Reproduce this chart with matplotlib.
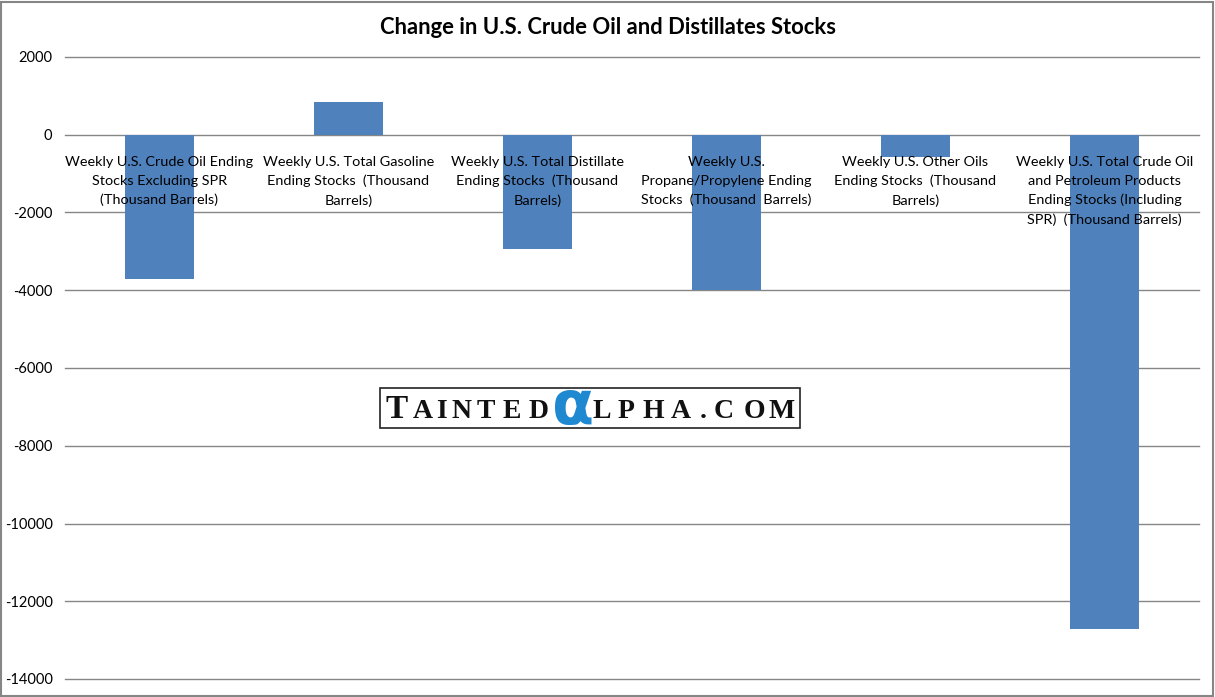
import numpy as np
import matplotlib.pyplot as plt
from matplotlib.patches import Rectangle

# categories and weekly changes (thousand barrels)
categories = [
    'Weekly U.S. Crude Oil Ending\nStocks Excluding SPR\n(Thousand Barrels)',
    'Weekly U.S. Total Gasoline\nEnding Stocks  (Thousand\nBarrels)',
    'Weekly U.S. Total Distillate\nEnding Stocks  (Thousand\nBarrels)',
    'Weekly U.S.\nPropane/Propylene Ending\nStocks  (Thousand  Barrels)',
    'Weekly U.S. Other Oils\nEnding Stocks  (Thousand\nBarrels)',
    'Weekly U.S. Total Crude Oil\nand Petroleum Products\nEnding Stocks (Including\nSPR)  (Thousand Barrels)',
]
changes = [-3700, 850, -2950, -4000, -570, -12720]
yticks = np.arange(-14000, 2001, 2000)

W, H = 1215, 697
fig = plt.figure(figsize=(W / 100, H / 100), dpi=100)
fig.patch.set_facecolor('white')

# outer chart border
fig.patches.append(Rectangle((1 / W, 1 / H), (W - 3) / W, (H - 3) / H,
                             transform=fig.transFigure, fill=False,
                             edgecolor='#868686', linewidth=1.5))

ax = fig.add_axes([65 / W, (H - 679) / H, (1199 - 65) / W, (679 - 57) / H])
ax.set_facecolor('white')
x = np.arange(len(categories))
ax.bar(x, changes, width=0.37, color='#4F81BD', zorder=2)
ax.set_xlim(-0.5, len(categories) - 0.5)
ax.set_ylim(-14000, 2000)
ax.set_yticks(yticks)
ax.set_yticklabels([str(v) for v in yticks], fontsize=10.5, family='Lato')
ax.tick_params(axis='y', length=0, pad=9)
ax.set_xticks([])
ax.grid(axis='y', color='#868686', linewidth=1, zorder=1)
for gl in ax.get_ygridlines():
    gl.set_clip_on(False)
for s in ax.spines.values():
    s.set_visible(False)

for i, lab in enumerate(categories):
    ax.text(i, -540, lab, ha='center', va='top', fontsize=10.4,
            family='Lato', linespacing=1.68, zorder=3)

fig.text(0.5, (H - 27) / H, 'Change in U.S. Crude Oil and Distillates Stocks',
         ha='center', va='center', fontsize=15.8, fontweight='bold',
         family='Lato')

# watermark
fig.patches.append(Rectangle((380 / W, (H - 428) / H), 420 / W, 40 / H,
                             transform=fig.transFigure, facecolor='white',
                             edgecolor='#222222', linewidth=1.2, zorder=5))
base = (H - 418) / H
fig.text(397 / W, base, 'T', ha='center', va='baseline', fontsize=24,
         family='Liberation Serif', fontweight='bold', color='#111111', zorder=6)
small = [('A', 423), ('I', 441), ('N', 461), ('T', 486), ('E', 512), ('D', 539),
         ('L', 602), ('P', 626), ('H', 653), ('A', 681), ('.', 703), ('C', 724),
         ('O', 754), ('M', 782)]
for ch, cx in small:
    fig.text(cx / W, base, ch, ha='center', va='baseline', fontsize=20,
             family='Liberation Serif', fontweight='bold', color='#111111', zorder=6)
fig.text(573 / W, (H - 424) / H, '\u03b1', ha='center', va='baseline', fontsize=44,
         family='DejaVu Sans', fontweight='bold', color='#1E88D0', zorder=6)

fig.savefig('out.png', dpi=100)
